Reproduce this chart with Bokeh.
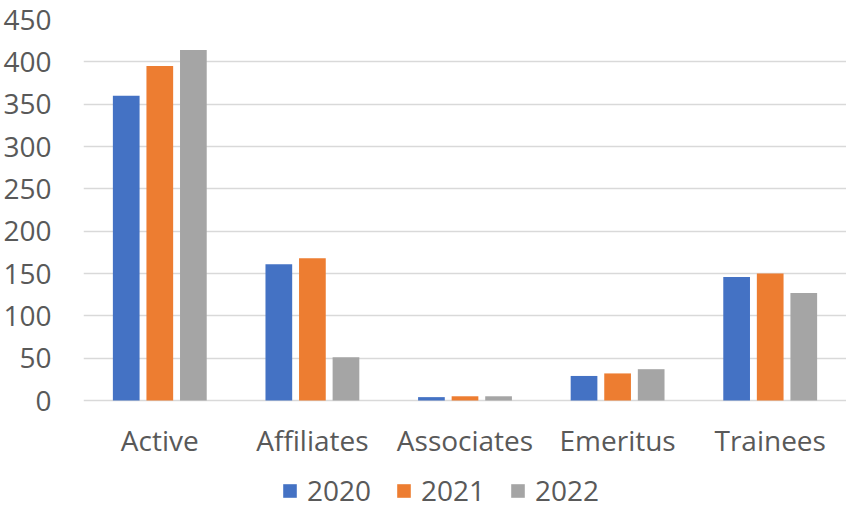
from bokeh.plotting import figure
from bokeh.models import FactorRange, Range1d, FixedTicker, Legend, LegendItem, ColumnDataSource
from bokeh.transform import dodge
from bokeh.embed import file_html
from bokeh.resources import INLINE

categories = ["Active", "Affiliates", "Associates", "Emeritus", "Trainees"]
years = ["2020", "2021", "2022"]
v2020 = [360, 161, 4, 29, 146]
v2021 = [395, 168, 5, 32, 150]
v2022 = [414, 51, 5, 37, 127]
y_ticks = [0, 50, 100, 150, 200, 250, 300, 350, 400, 450]

colors = ["#4472C4", "#ED7D31", "#A5A5A5"]
FONT = "Open Sans"
TXT = "#595959"

source = ColumnDataSource(dict(cat=categories, y2020=v2020, y2021=v2021, y2022=v2022))

# frame spans from the 450 gridline down to the bottom of the canvas;
# the value axis keeps 0 at the category axis, the space below holds labels and legend
p = figure(x_range=FactorRange(*categories), y_range=Range1d(-129.9, 450),
           width=846, height=510, output_backend="svg", toolbar_location=None,
           min_border_left=83, min_border_right=0, min_border_top=19, min_border_bottom=0)
p.outline_line_color = None
p.background_fill_color = "white"

renderers = []
offsets = [-0.22, 0.0, 0.22]
for col, off, c in zip(["y2020", "y2021", "y2022"], offsets, colors):
    r = p.vbar(x=dodge("cat", off, range=p.x_range), top=col, width=0.175,
               source=source, fill_color=c, line_color=None)
    renderers.append(r)

p.yaxis.ticker = FixedTicker(ticks=y_ticks)
p.ygrid.ticker = FixedTicker(ticks=y_ticks)
p.xgrid.grid_line_color = None
p.ygrid.grid_line_color = "#d9d9d9"
p.ygrid.grid_line_width = 1.5

for ax in (p.xaxis, p.yaxis):
    ax.axis_line_color = None
    ax.major_tick_line_color = None
    ax.minor_tick_line_color = None
    ax.major_tick_out = 0
    ax.major_tick_in = 0
    ax.major_label_text_font = FONT
    ax.major_label_text_font_size = "28px"
    ax.major_label_text_color = TXT
p.yaxis.major_label_standoff = 32
p.xaxis.major_label_standoff = 20
p.xaxis.fixed_location = 0

legend = Legend(items=[LegendItem(label=y, renderers=[r]) for y, r in zip(years, renderers)],
                orientation="horizontal", location=(198, 1),
                glyph_width=17, glyph_height=17, label_standoff=9, spacing=24,
                padding=0, margin=0, border_line_color=None, background_fill_alpha=0,
                label_text_font=FONT, label_text_font_size="28px", label_text_color=TXT)
p.add_layout(legend, "center")

open("out.html", "w").write(file_html(p, INLINE))
